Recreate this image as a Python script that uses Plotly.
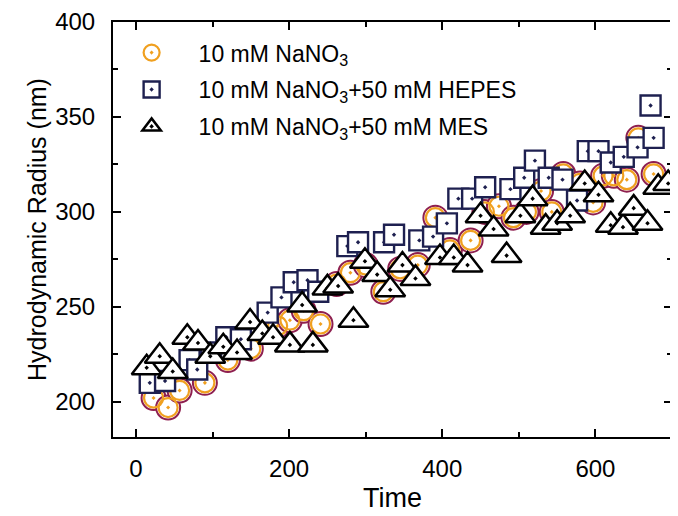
import plotly.graph_objects as go

# 10 mM NaNO3
t_nano3 = [23, 42, 57, 90, 120, 150, 185, 201, 219, 241, 262, 280, 300, 323, 345, 368,
           391, 410, 437, 455, 474, 493, 510, 529, 543, 558, 580, 597, 610, 624, 641, 656, 676]
r_nano3 = [202, 197, 206, 210, 222, 228, 240, 243, 248, 241, 262, 268, 272, 258, 270, 272,
           297, 280, 285, 300, 303, 297, 300, 311, 300, 320, 315, 305, 319, 319, 317, 339, 320]

# 10 mM NaNO3 + 50 mM HEPES
t_hepes = [18, 38, 70, 80, 98, 118, 137, 172, 190, 206, 224, 238, 276, 290, 324, 337, 370,
           388, 406, 421, 439, 456, 489, 507, 521, 539, 557, 576, 590, 604, 620, 637, 655, 672, 676]
r_hepes = [210, 211, 222, 217, 226, 234, 233, 247, 255, 263, 264, 258, 282, 284, 284, 288, 285,
           287, 294, 307, 307, 313, 312, 318, 327, 318, 317, 306, 332, 332, 326, 329, 334, 356, 339]

# 10 mM NaNO3 + 50 mM MES
t_mes = [14, 31, 48, 67, 81, 97, 114, 132, 149, 165, 179, 201, 217, 231, 250, 264, 284, 299,
         315, 332, 348, 365, 397, 415, 433, 450, 467, 484, 502, 518, 535, 550, 567, 586, 604,
         620, 636, 650, 668, 682, 695]
r_mes = [218, 224, 216, 234, 231, 224, 229, 226, 242, 236, 234, 230, 251, 230, 260, 261, 243, 274,
         267, 259, 272, 265, 276, 276, 272, 298, 291, 277, 298, 307, 292, 294, 298, 315, 309,
         293, 292, 302, 294, 313, 315]

FONT = "Liberation Sans, Arial, sans-serif"

fig = go.Figure()

# outer maroon ring of the circles
fig.add_trace(go.Scatter(
    x=t_nano3, y=r_nano3, mode="markers", showlegend=False, legendgroup="a",
    marker=dict(symbol="circle", size=24, color="white",
                line=dict(color="#8e1f4f", width=2)),
))
# inner orange ring + dot
fig.add_trace(go.Scatter(
    x=t_nano3, y=r_nano3, mode="markers", name="10 mM NaNO<sub>3</sub>", legendgroup="a",
    marker=dict(symbol="circle-dot", size=19, color="rgba(255,255,255,0)",
                line=dict(color="#f0a020", width=2.2)),
))
fig.add_trace(go.Scatter(
    x=t_hepes, y=r_hepes, mode="markers", name="10 mM NaNO<sub>3</sub>+50 mM HEPES",
    legendgroup="b",
    marker=dict(symbol="square-dot", size=20, color="white",
                line=dict(color="#1e2050", width=2.4)),
))
fig.add_trace(go.Scatter(
    x=t_mes, y=r_mes, mode="markers", name="10 mM NaNO<sub>3</sub>+50 mM MES",
    legendgroup="c",
    marker=dict(symbol="triangle-up-dot", size=26, color="white",
                line=dict(color="black", width=2.5)),
))

axis_common = dict(
    showline=True, linecolor="black", linewidth=2, mirror="allticks",
    ticks="inside", ticklen=8, tickwidth=1.5, tickcolor="black",
    showgrid=False, zeroline=False,
    tickfont=dict(family=FONT, size=24, color="black"),
)

fig.update_xaxes(
    range=[-30, 700], dtick=200, tick0=0,
    minor=dict(dtick=100, ticks="inside", ticklen=5, tickwidth=1.5, tickcolor="black"),
    title=dict(text="Time", font=dict(family=FONT, size=27, color="black"), standoff=7),
    ticklabelstandoff=9,
    **axis_common,
)
fig.update_yaxes(
    range=[181.5, 400], dtick=50, tick0=0,
    minor=dict(dtick=25, ticks="inside", ticklen=5, tickwidth=1.5, tickcolor="black"),
    title=dict(text="Hydrodynamic Radius (nm)", font=dict(family=FONT, size=25, color="black"),
               standoff=1),
    ticklabelstandoff=11,
    **axis_common,
)

# page body has an 8px margin, so the figure is 8px smaller and shifted
fig.update_layout(
    width=670, height=508,
    margin=dict(l=105, r=6, t=14, b=79, autoexpand=False),
    paper_bgcolor="white", plot_bgcolor="white",
    font=dict(family=FONT, color="black"),
    showlegend=True,
    legend=dict(
        x=-0.015, y=0.978, xanchor="left", yanchor="top",
        bgcolor="rgba(0,0,0,0)", font=dict(family=FONT, size=23, color="black"),
        tracegroupgap=4, itemwidth=84,
    ),
)

fig.write_html("out.html")
